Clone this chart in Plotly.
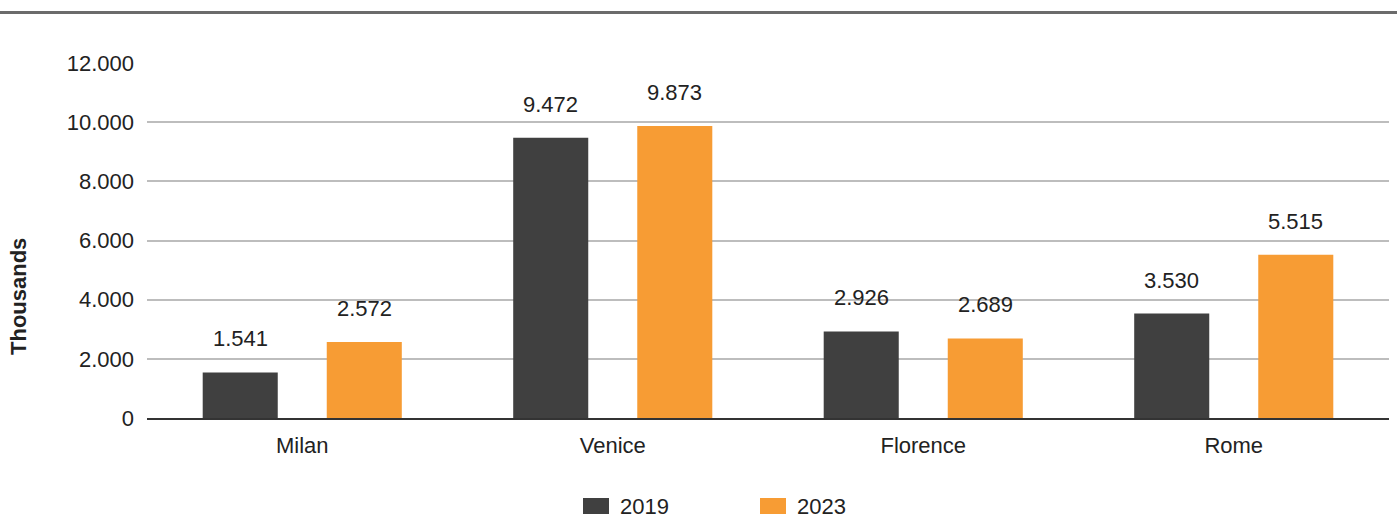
import plotly.graph_objects as go

# Visitors by city, in thousands
cities = ["Milan", "Venice", "Florence", "Rome"]
years = ["2019", "2023"]
values_2019 = [1541, 9472, 2926, 3530]
values_2023 = [2572, 9873, 2689, 5515]
colors = {"2019": "#404040", "2023": "#F79C34"}
y_ticks = [0, 2000, 4000, 6000, 8000, 10000, 12000]

FONT = "Liberation Sans, Arial, sans-serif"
TEXT = "#222222"
FS = 22

W, H = 1397, 518
# plot area in pixels
PL, PR, PT, PB = 147, 1389, 62, 418


def px_x(px):
    return (px - PL) / (PR - PL)


def px_y(py):
    return (PB - py) / (PB - PT)


def fmt(v):
    return f"{v:,}".replace(",", ".")


series = {"2019": values_2019, "2023": values_2023}
fig = go.Figure()
for yr in years:
    fig.add_trace(go.Bar(
        x=cities, y=series[yr], name=yr,
        marker=dict(color=colors[yr], line=dict(width=0)),
        showlegend=False,
    ))

annotations = []
# value labels above each bar
for i, yr in enumerate(years):
    shift = -62 if i == 0 else 62
    for c, v in zip(cities, series[yr]):
        annotations.append(dict(
            x=c, y=v, xref="x", yref="y", text=fmt(v), showarrow=False,
            xshift=shift, yshift=19, yanchor="bottom",
            font=dict(family=FONT, size=FS, color=TEXT),
        ))

# y-axis title
annotations.append(dict(
    x=px_x(18), y=px_y(297), xref="paper", yref="paper",
    text="<b>Thousands</b>", showarrow=False, textangle=-90,
    xanchor="center", yanchor="middle",
    font=dict(family=FONT, size=FS, color=TEXT),
))

shapes = []
# legend entries
for yr, x0 in [("2019", 583), ("2023", 760)]:
    shapes.append(dict(
        type="rect", xref="paper", yref="paper",
        x0=px_x(x0), x1=px_x(x0 + 26), y0=px_y(514), y1=px_y(498),
        fillcolor=colors[yr], line=dict(width=0),
    ))
    annotations.append(dict(
        x=px_x(x0 + 35), y=px_y(506), xref="paper", yref="paper",
        text=yr, showarrow=False, xanchor="left", yanchor="middle",
        font=dict(family=FONT, size=FS, color=TEXT),
    ))

# rule across the top
shapes.append(dict(
    type="line", xref="paper", yref="paper", x0=px_x(0), x1=px_x(W),
    y0=px_y(12.5), y1=px_y(12.5), line=dict(color="#6b6b6b", width=3),
))

# y range reaches just past 12.000 so its gridline stays visible
y_top = 12000 * (PB - PT) / (PB - PT - 1)

fig.update_layout(
    width=W, height=H,
    margin=dict(l=PL, r=W - PR, t=PT, b=H - PB, pad=0),
    paper_bgcolor="white", plot_bgcolor="white",
    barmode="group", bargap=0.201, bargroupgap=0.395,
    separators=",.",
    font=dict(family=FONT, size=FS, color=TEXT),
    annotations=annotations, shapes=shapes,
    showlegend=False,
    xaxis=dict(
        showgrid=False, showline=True, linecolor="#333333", linewidth=2,
        ticks="", tickfont=dict(family=FONT, size=FS, color=TEXT),
        ticklabelstandoff=7,
    ),
    yaxis=dict(
        range=[0, y_top], tickvals=y_ticks, tickformat=",d",
        showgrid=True, gridcolor="#BDBDBD", gridwidth=1.5,
        zeroline=False, showline=False, ticks="",
        tickfont=dict(family=FONT, size=FS, color=TEXT),
        ticklabelstandoff=12,
    ),
)

fig.write_html("out.html")
